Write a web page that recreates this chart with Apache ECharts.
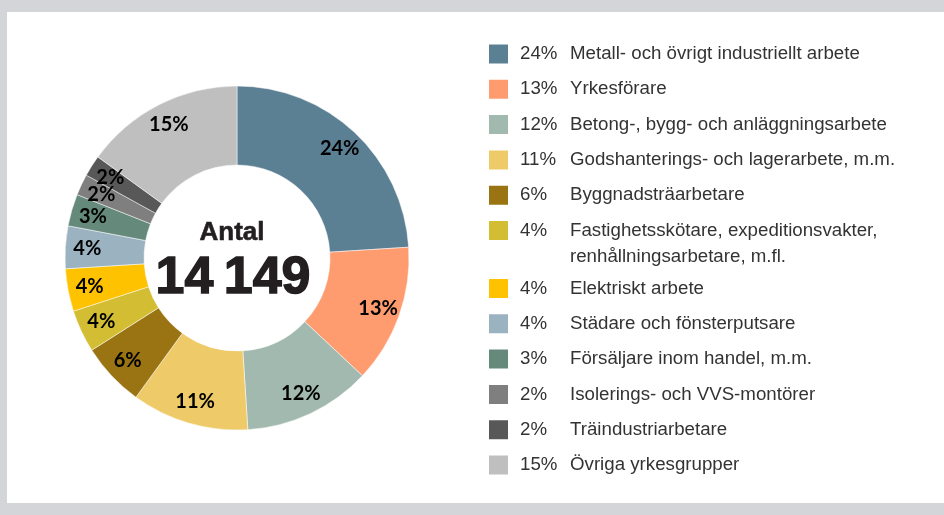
<!DOCTYPE html>
<html>
<head>
<meta charset="utf-8">
<script src="https://cdn.jsdelivr.net/npm/echarts@6/dist/echarts.min.js"></script>
<style>
  html, body { margin: 0; padding: 0; background: #d4d5d8; }
  #chart { width: 944px; height: 515px; }
</style>
</head>
<body>
<div id="chart"></div>
<script>
// ---- data ----
const categories = [
  'Metall- och övrigt industriellt arbete',
  'Yrkesförare',
  'Betong-, bygg- och anläggningsarbete',
  'Godshanterings- och lagerarbete, m.m.',
  'Byggnadsträarbetare',
  'Fastighetsskötare, expeditionsvakter, renhållningsarbetare, m.fl.',
  'Elektriskt arbete',
  'Städare och fönsterputsare',
  'Försäljare inom handel, m.m.',
  'Isolerings- och VVS-montörer',
  'Träindustriarbetare',
  'Övriga yrkesgrupper'
];
const percentages = [24, 13, 12, 11, 6, 4, 4, 4, 3, 2, 2, 15];
const centerTitle = 'Antal';
const totalCount = '14\u2009149';

// ---- styles ----
const colors = ['#5b7f93', '#fe9c6f', '#a2b9af', '#eecb68', '#9a7313', '#d3bd33',
                '#fec200', '#9bb2c0', '#658a7b', '#7f7f7f', '#585858', '#bfbfbf'];

const seriesData = categories.map((name, i) => ({ name: name, value: percentages[i] }));

function wrapName(name) {
  if (name.length <= 40) return [name];
  const cut = name.lastIndexOf(', ', 40);
  return [name.slice(0, cut + 1), name.slice(cut + 2)];
}
function legendFormatter(name) {
  const i = categories.indexOf(name);
  const lines = wrapName(name);
  let s = '{p|' + percentages[i] + '%}{n|' + lines[0] + '}';
  for (let k = 1; k < lines.length; k++) s += '\n{p| }{n|' + lines[k] + '}';
  return s;
}
function legendItems(from, to) {
  return categories.slice(from, to).map(name => {
    const n = wrapName(name).length;
    return n > 1 ? { name: name, textStyle: { padding: [0, 0, -26 * (n - 1), 0] } } : { name: name };
  });
}
const legendText = {
  color: '#333',
  fontFamily: 'Liberation Sans',
  fontSize: 18.7,
  rich: {
    p: { width: 50, padding: [0, 0, 0, 6], fontFamily: 'Liberation Sans', fontSize: 18.7, color: '#333', lineHeight: 26 },
    n: { fontFamily: 'Liberation Sans', fontSize: 18.7, color: '#333', lineHeight: 26 }
  }
};
const legendBase = {
  orient: 'vertical',
  left: 487,
  padding: 0,
  icon: 'rect',
  itemWidth: 21,
  itemHeight: 21,
  itemGap: 12.3,
  selectedMode: false,
  formatter: legendFormatter,
  textStyle: legendText
};

const chart = echarts.init(document.getElementById('chart'), null, { renderer: 'canvas' });
chart.setOption({
  backgroundColor: '#d4d5d8',
  color: colors,
  animation: false,
  graphic: [
    { type: 'rect', z: -10, shape: { x: 7, y: 12, width: 937, height: 491 }, style: { fill: '#ffffff' } },
    { type: 'text', z: 10, x: 232, y: 233, style: { text: centerTitle, align: 'center', verticalAlign: 'middle',
      font: 'bold 26px "Liberation Sans"', fill: '#231f20', stroke: '#231f20', lineWidth: 0.6 } },
    { type: 'text', z: 10, x: 233, y: 279, style: { text: totalCount, align: 'center', verticalAlign: 'middle',
      font: 'bold 52px "Liberation Sans"', fill: '#231f20', stroke: '#231f20', lineWidth: 1.4 } }
  ],
  legend: [
    Object.assign({}, legendBase, { top: 42.5, data: legendItems(0, 6) }),
    Object.assign({}, legendBase, { top: 277, data: legendItems(6, 12) })
  ],
  series: [
    {
      type: 'pie',
      center: [237, 258],
      radius: [93, 172],
      startAngle: 90,
      clockwise: true,
      avoidLabelOverlap: false,
      silent: true,
      label: { show: false },
      labelLine: { show: false },
      itemStyle: { borderColor: '#ffffff', borderWidth: 0.5 },
      data: seriesData
    },
    {
      type: 'pie',
      center: [237, 258],
      radius: [122, 172],
      startAngle: 90,
      clockwise: true,
      avoidLabelOverlap: false,
      silent: true,
      itemStyle: { color: 'rgba(0,0,0,0)' },
      labelLayout: { hideOverlap: false },
      label: {
        show: true,
        position: 'inside',
        formatter: '{c}%',
        color: '#000',
        fontFamily: 'Lato',
        fontWeight: 'bold',
        fontSize: 20
      },
      labelLine: { show: false },
      data: seriesData
    }
  ]
});
</script>
</body>
</html>
